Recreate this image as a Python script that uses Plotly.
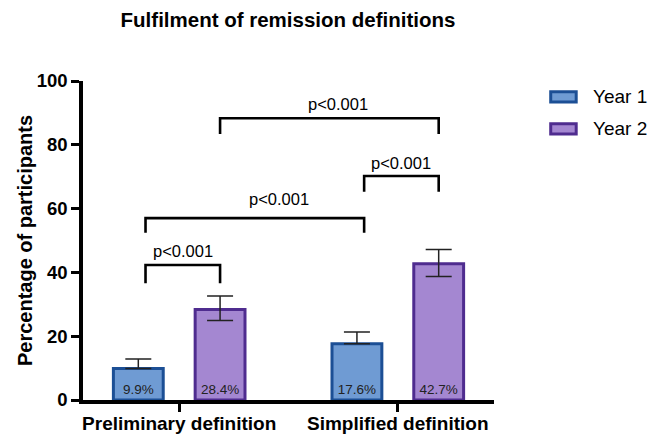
import plotly.graph_objects as go

# ---- data ----
categories = ["Preliminary definition", "Simplified definition"]
series_names = ["Year 1", "Year 2"]
year1_values = [9.9, 17.6]
year2_values = [28.4, 42.7]
year1_err_plus = [2.95, 3.7]
year1_err_minus = [0, 0]
year2_err_plus = [4.2, 4.5]
year2_err_minus = [3.5, 4.0]
y_ticks = [0, 20, 40, 60, 80, 100]
comparison_pairs = [(0, 0, 0, 1), (0, 0, 1, 0), (1, 0, 1, 1), (0, 1, 1, 1)]  # (group a, series a, group b, series b)
comparison_labels = ["p<0.001", "p<0.001", "p<0.001", "p<0.001"]

# ---- style / layout settings ----
FONT = "Arial, 'Liberation Sans', sans-serif"
fill_colors = ["#6f9bd3", "#a487d1"]
line_colors = ["#1c4f95", "#4f2c8f"]
bar_width = 0.228
bar_shift = 0.187
bracket_top = [42.3, 57.0, 70.2, 88.3]
bracket_drop = [5.7, 4.6, 4.9, 4.9]
label_y = [46.7, 62.9, 74.4, 92.7]
label_dx = [0.0, 0.112, 0.0, 0.041]
series_end_nudge = [0.033, 0.0]

values = [year1_values, year2_values]
err_plus = [year1_err_plus, year2_err_plus]
err_minus = [year1_err_minus, year2_err_minus]

fig = go.Figure()
for s in range(2):
    sign = -1 if s == 0 else 1
    fig.add_trace(go.Bar(
        x=categories, y=values[s], name=series_names[s],
        width=bar_width, offset=sign * bar_shift - bar_width / 2,
        marker=dict(color=fill_colors[s], line=dict(color=line_colors[s], width=3)),
        text=[f"{v:.1f}%" for v in values[s]],
        textposition="inside", insidetextanchor="start", textangle=0,
        insidetextfont=dict(family=FONT, size=13.5, color="#222222"),
        error_y=dict(type="data", symmetric=False, array=err_plus[s], arrayminus=err_minus[s],
                     color="#222222", thickness=1.5, width=13),
        showlegend=False,
    ))

shapes = []
annotations = []
def bar_x(g, s):
    sign = -1 if s == 0 else 1
    return g + sign * bar_shift + series_end_nudge[s]

for i, (ga, sa, gb, sb) in enumerate(comparison_pairs):
    xa, xb = bar_x(ga, sa), bar_x(gb, sb)
    top = bracket_top[i]
    bottom = top - bracket_drop[i]
    shapes.append(dict(type="path", xref="x", yref="y",
                       path=f"M {xa},{bottom} L {xa},{top} L {xb},{top} L {xb},{bottom}",
                       line=dict(color="black", width=2.6)))
    annotations.append(dict(x=(xa + xb) / 2 + label_dx[i], y=label_y[i], xref="x", yref="y",
                            text=comparison_labels[i], showarrow=False,
                            font=dict(family=FONT, size=16.5, color="black"),
                            xanchor="center", yanchor="middle"))

# manual legend (rectangle swatches like the reference)
legend_rows = [0.95, 0.85]
for s in range(2):
    yc = legend_rows[s]
    shapes.append(dict(type="rect", xref="paper", yref="paper",
                       x0=1.138, x1=1.200, y0=yc - 0.016, y1=yc + 0.016,
                       fillcolor=fill_colors[s], line=dict(color=line_colors[s], width=3)))
    annotations.append(dict(x=1.236, y=yc, xref="paper", yref="paper", text=series_names[s],
                            showarrow=False, xanchor="left", yanchor="middle",
                            font=dict(family=FONT, size=19, color="black")))

fig.update_layout(
    width=654, height=435,
    margin=dict(l=83, r=160, t=81, b=35),
    paper_bgcolor="white", plot_bgcolor="white",
    barmode="overlay",
    title=dict(text="Fulfilment of remission definitions", xref="container", yref="container",
               x=288 / 654, y=1 - 20 / 435, xanchor="center", yanchor="middle",
               font=dict(family=FONT, size=20.5, color="black", weight="bold")),
    xaxis=dict(type="category", range=[-0.44, 1.44], showline=True, linecolor="black", linewidth=3.5,
               ticks="outside", ticklen=8, tickwidth=3, tickcolor="black", showgrid=False, zeroline=False,
               automargin=False,
               tickfont=dict(family=FONT, size=19, color="black", weight="bold"), ticklabelstandoff=-5),
    yaxis=dict(range=[0, 100], tickvals=y_ticks, showline=True, linecolor="black", linewidth=3.5,
               ticks="outside", ticklen=8, tickwidth=3, tickcolor="black", showgrid=False, zeroline=False,
               automargin=False,
               tickfont=dict(family=FONT, size=18.5, color="black", weight="bold"),
               title=dict(text="Percentage of participants", standoff=0,
                          font=dict(family=FONT, size=20, color="black", weight="bold"))),
    shapes=shapes, annotations=annotations,
    showlegend=False,
)

fig.write_html("out.html", config={"displayModeBar": False},
               post_script="document.body.style.margin='0';document.body.style.overflow='hidden';")
